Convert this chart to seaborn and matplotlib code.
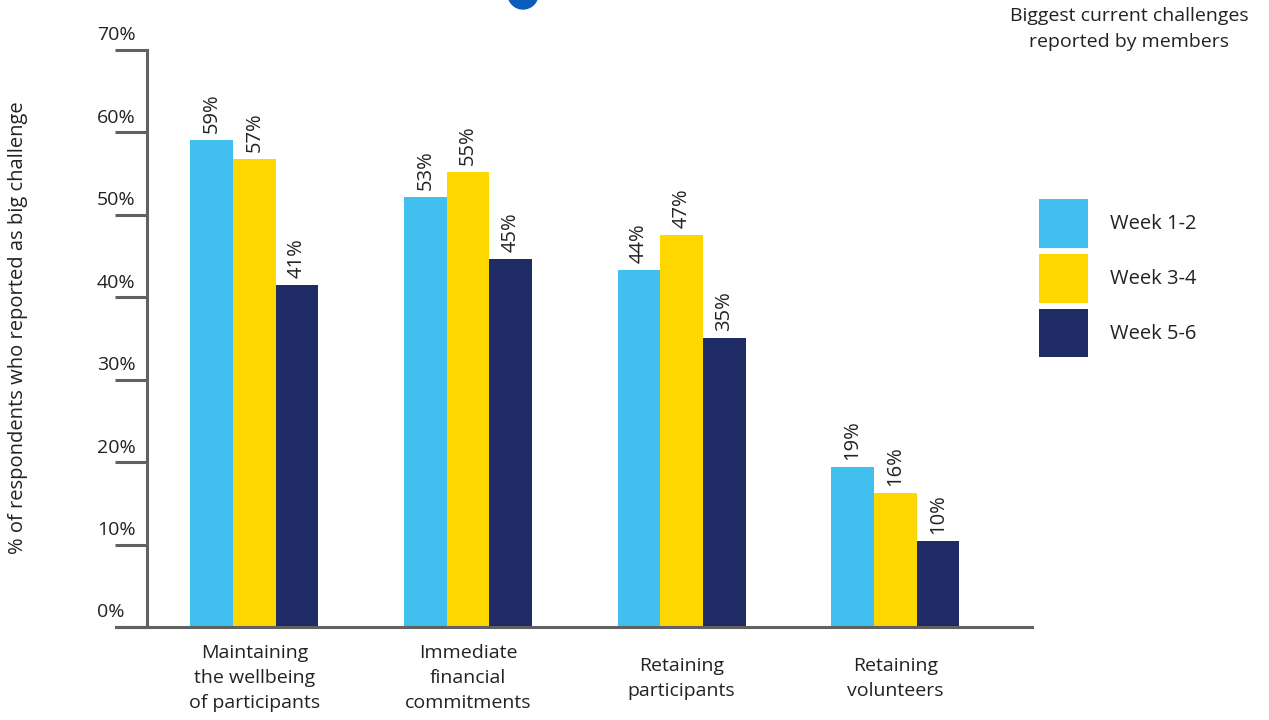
import matplotlib
matplotlib.use("Agg")
import matplotlib.pyplot as plt
import matplotlib.transforms as mtrans
from matplotlib.patches import Patch, Ellipse
import seaborn as sns
import pandas as pd

categories = ["Maintaining\nthe wellbeing\nof participants",
              "Immediate\nfinancial\ncommitments",
              "Retaining\nparticipants",
              "Retaining\nvolunteers"]
periods = ["Week 1-2", "Week 3-4", "Week 5-6"]
week_1_2 = [59.1, 52.2, 43.3, 19.4]
week_3_4 = [56.8, 55.2, 47.5, 16.3]
week_5_6 = [41.5, 44.7, 35.1, 10.4]
labels_1_2 = ["59%", "53%", "44%", "19%"]
labels_3_4 = ["57%", "55%", "47%", "16%"]
labels_5_6 = ["41%", "45%", "35%", "10%"]
yticks = [0, 10, 20, 30, 40, 50, 60, 70]
colors = ["#41BFEE", "#FFD700", "#1E2B65"]

rows = []
for period, vals in zip(periods, [week_1_2, week_3_4, week_5_6]):
    for cat, v in zip(categories, vals):
        rows.append({"category": cat, "period": period, "value": v})
df = pd.DataFrame(rows)

sns.set_theme(style="white")
plt.rcParams["font.family"] = ["Open Sans", "DejaVu Sans"]
txt = "#222222"
axis_col = "#616161"

fig = plt.figure(figsize=(12.69, 7.2), dpi=100)
ax = fig.add_axes([0.1158, 0.1292, 0.6974, 0.8014])

sns.barplot(data=df, x="category", y="value", hue="period", palette=colors,
            width=0.6, saturation=1, linewidth=0, legend=False, ax=ax)

for cont, labs in zip(ax.containers, [labels_1_2, labels_3_4, labels_5_6]):
    ax.bar_label(cont, labels=labs, rotation=90, padding=5, fontsize=14.5, color=txt)

ax.set_xlim(-0.503, 3.64)
ax.set_ylim(0, 70)
ax.set_yticks(yticks)
ax.set_yticklabels([])
ax.tick_params(axis="y", left=True, length=23, width=2.2, color=axis_col)

# y tick labels sit above the tick lines
lab_tr = mtrans.offset_copy(ax.get_yaxis_transform(), fig=fig, y=4, units="points")
for t in yticks:
    ax.text(-0.0565, t, f"{t}%", transform=lab_tr, ha="left", va="bottom",
            fontsize=14, color=txt, clip_on=False)

ax.tick_params(axis="x", length=0, pad=37, labelsize=14, labelcolor=txt)
for lab in ax.get_xticklabels():
    lab.set_verticalalignment("center")
    lab.set_linespacing(1.5)

ax.set_xlabel("")
ax.set_ylabel("")
for s in ["top", "right"]:
    ax.spines[s].set_visible(False)
for s in ["left", "bottom"]:
    ax.spines[s].set_color(axis_col)
    ax.spines[s].set_linewidth(2.2)
ax.spines["bottom"].set_bounds(-0.65, 3.64)
ax.spines["bottom"].set_clip_on(False)

fig.text(0.014, 0.545, "% of respondents who reported as big challenge",
         rotation=90, ha="center", va="center", fontsize=14.5, color=txt)
fig.text(0.89, 0.96, "Biggest current challenges\nreported by members",
         ha="center", va="center", fontsize=14, color=txt, linespacing=1.55)

handles = [Patch(facecolor=c, edgecolor="none") for c in colors]
fig.legend(handles, periods, loc="upper left", bbox_to_anchor=(1039 / 1269, 1 - 199 / 720),
           frameon=False, fontsize=14.5, handlelength=2.45, handleheight=3.35,
           labelspacing=0.3, handletextpad=1.1, borderpad=0, borderaxespad=0,
           labelcolor=txt)

fig.patches.append(Ellipse((523 / 1269, 1 + 6 / 720), 30 / 1269, 30 / 720,
                           transform=fig.transFigure, color="#0A5DBA"))

fig.savefig("out.png", dpi=100)
